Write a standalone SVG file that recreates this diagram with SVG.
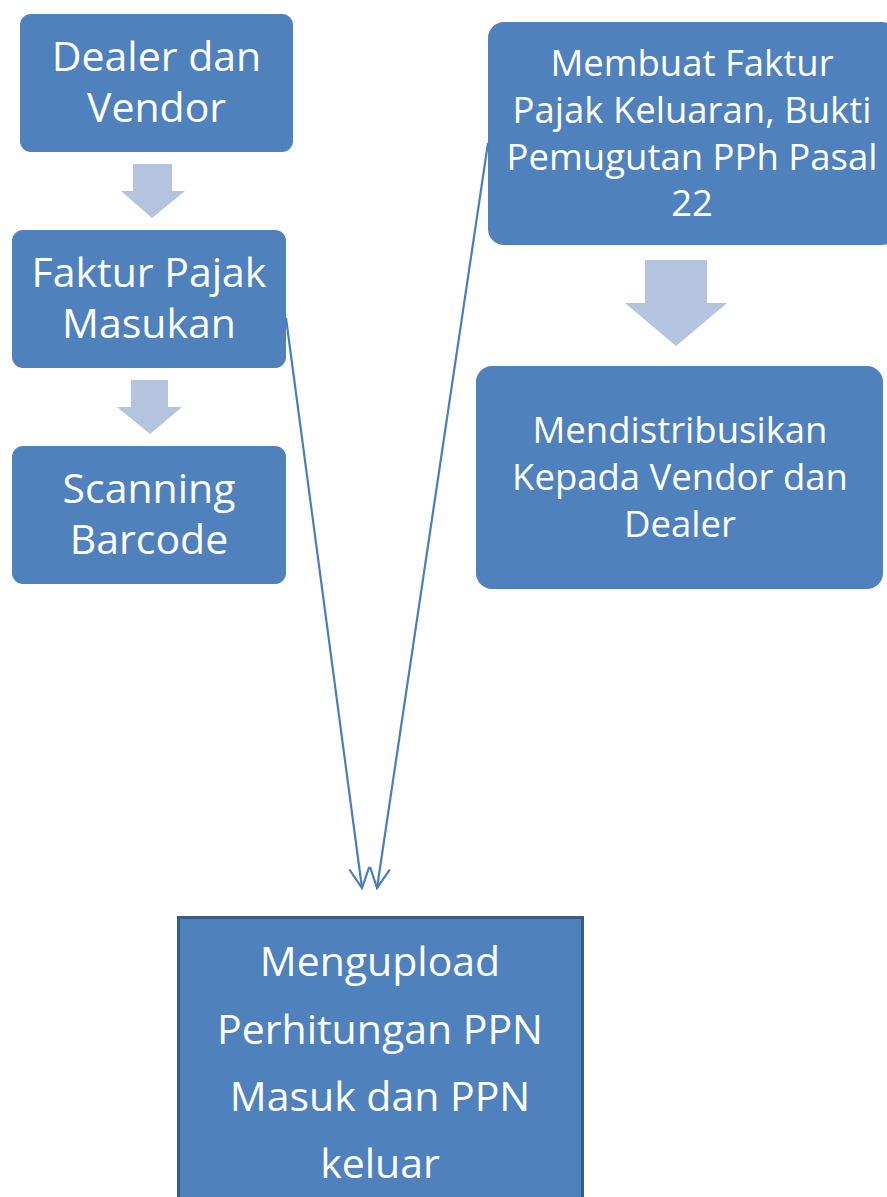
<svg xmlns="http://www.w3.org/2000/svg" width="887" height="1197" viewBox="0 0 887 1197">
<defs>
<style>
.box{fill:#4f81bd;}
.bar{fill:#b4c4df;}
.t{font-family:"Open Sans","Noto Sans",sans-serif;fill:#ffffff;text-anchor:middle;}
.l{font-size:41px;}
.r{font-size:36.5px;}
.b{font-size:41px;}
.con{stroke:#4a7ebb;stroke-width:2.2;fill:none;}
</style>
<marker id="open" viewBox="0 0 24 24" refX="22" refY="12" markerWidth="24" markerHeight="24" markerUnits="userSpaceOnUse" orient="auto">
<path d="M2,2 L22,12 L2,22" fill="none" stroke="#4a7ebb" stroke-width="2.2"/>
</marker>
</defs>
<rect width="887" height="1197" fill="#ffffff"/>
<g id="dealer">
<rect class="box" x="20" y="14" width="273" height="138" rx="11"/>
<text class="t l" x="156.5" y="71">Dealer dan</text>
<text class="t l" x="156.5" y="122">Vendor</text>
</g>
<g id="arrow1"><path class="bar" d="M133,164 H172 V191 H185 L152,218 L121,191 H133 Z"/></g>
<g id="faktur">
<rect class="box" x="12" y="230" width="274" height="138" rx="11"/>
<text class="t l" x="149" y="287">Faktur Pajak</text>
<text class="t l" x="149" y="338">Masukan</text>
</g>
<g id="arrow2"><path class="bar" d="M131,380 H168 V407 H182 L150,434 L117,407 H131 Z"/></g>
<g id="scanning">
<rect class="box" x="12" y="446" width="274" height="138" rx="11"/>
<text class="t l" x="149" y="503">Scanning</text>
<text class="t l" x="149" y="554">Barcode</text>
</g>
<g id="membuat">
<rect class="box" x="488" y="22" width="410" height="223" rx="16"/>
<text class="t r" x="692" y="76">Membuat Faktur</text>
<text class="t r" x="692" y="123">Pajak Keluaran, Bukti</text>
<text class="t r" x="692" y="170">Pemugutan PPh Pasal</text>
<text class="t r" x="692" y="216">22</text>
</g>
<g id="arrow3"><path class="bar" d="M645,260 H707 V303 H727 L676,346 L625,303 H645 Z"/></g>
<g id="distribusi">
<rect class="box" x="476" y="366" width="407" height="223" rx="16"/>
<text class="t r" x="680" y="443">Mendistribusikan</text>
<text class="t r" x="680" y="490">Kepada Vendor dan</text>
<text class="t r" x="680" y="537">Dealer</text>
</g>
<g id="upload">
<rect class="box" x="178.5" y="917.5" width="404" height="290" fill="#4f81bd" stroke="#385d8a" stroke-width="3"/>
<text class="t b" x="380" y="976">Mengupload</text>
<text class="t b" x="380" y="1044">Perhitungan PPN</text>
<text class="t b" x="380" y="1111">Masuk dan PPN</text>
<text class="t b" x="380" y="1178">keluar</text>
</g>
<g id="connectors">
<line class="con" x1="286" y1="318" x2="362" y2="888" marker-end="url(#open)"/>
<line class="con" x1="488" y1="143" x2="377" y2="888" marker-end="url(#open)"/>
</g>
</svg>
